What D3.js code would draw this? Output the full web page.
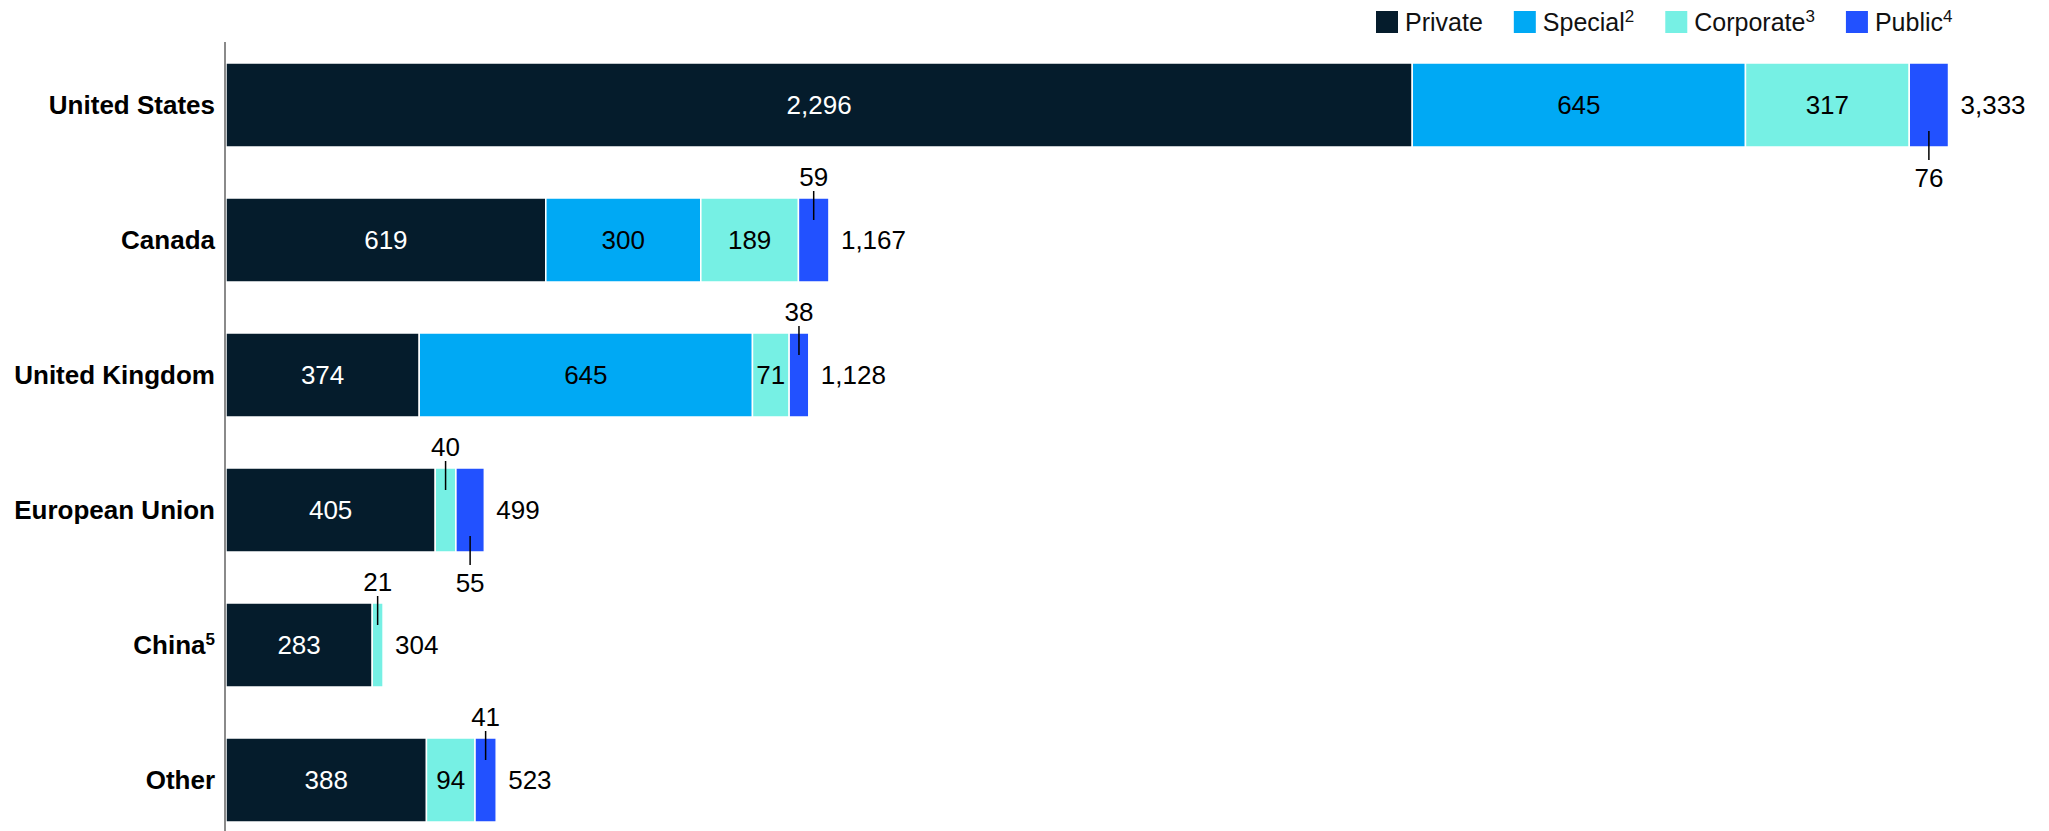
<!DOCTYPE html>
<html>
<head>
<meta charset="utf-8">
<script src="https://cdn.jsdelivr.net/npm/d3@7"></script>
<style>
  html, body { margin: 0; padding: 0; background: #fff; }
  svg { display: block; }
  text { font-family: "Liberation Sans", Arial, Helvetica, sans-serif; }
</style>
</head>
<body>
<svg id="chart" width="2049" height="831"></svg>
<script>
// Categories and their footnote markers
const categories = ["United States", "Canada", "United Kingdom", "European Union", "China", "Other"];
const categoryNotes = ["", "", "", "", "5", ""];

// Series names and footnote markers
const seriesNames = ["Private", "Special", "Corporate", "Public"];
const seriesNotes = ["", "2", "3", "4"];

// Values per series, one per category
const privateValues   = [2296, 619, 374, 405, 283, 388];
const specialValues   = [645, 300, 645, 0, 0, 0];
const corporateValues = [317, 189, 71, 40, 21, 94];
const publicValues    = [76, 59, 38, 55, 0, 41];

// Stated totals per category
const totals = [3333, 1167, 1128, 499, 304, 523];

const colors = ["#051C2C", "#00A9F4", "#76F0E4", "#2251FF"];
const insideText = ["#ffffff", "#000000", "#000000", "#000000"];

const rows = categories.map((c, i) => ({
  category: c,
  note: categoryNotes[i],
  Private: privateValues[i],
  Special: specialValues[i],
  Corporate: corporateValues[i],
  Public: publicValues[i],
  total: totals[i]
}));

const svg = d3.select("#chart");
const fmt = d3.format(",");

const x = d3.scaleLinear().domain([0, 3333]).range([226, 1948]);
const y = d3.scaleBand().domain(categories).range([63, 822]).paddingInner(0.3778).paddingOuter(0);

const stack = d3.stack().keys(seriesNames);
const series = stack(rows);

// Stacked bars
const g = svg.append("g");
series.forEach((s, si) => {
  g.append("g")
    .selectAll("rect")
    .data(s.filter(d => d[1] - d[0] > 0))
    .join("rect")
    .attr("x", d => x(d[0]))
    .attr("y", d => y(d.data.category))
    .attr("width", d => x(d[1]) - x(d[0]))
    .attr("height", y.bandwidth())
    .attr("fill", colors[si])
    .attr("stroke", "#ffffff")
    .attr("stroke-width", 1.5);
});

// Vertical axis line
svg.append("line")
  .attr("x1", 225).attr("x2", 225)
  .attr("y1", 42).attr("y2", 831)
  .attr("stroke", "#8a8a8a")
  .attr("stroke-width", 2);

// Category labels
const catLabels = svg.append("g")
  .selectAll("text")
  .data(rows)
  .join("text")
  .attr("x", 215)
  .attr("y", d => y(d.category) + y.bandwidth() / 2)
  .attr("dy", "0.35em")
  .attr("text-anchor", "end")
  .attr("font-size", 26)
  .attr("font-weight", "bold")
  .attr("fill", "#000");
catLabels.append("tspan").text(d => d.category);
catLabels.filter(d => d.note).append("tspan")
  .attr("font-size", 17)
  .attr("dy", -9)
  .text(d => d.note);

// Segment value labels: inside wide segments, on leader lines otherwise
const labelG = svg.append("g");
rows.forEach((row, ri) => {
  const top = y(row.category);
  const bottom = top + y.bandwidth();
  const mid = top + y.bandwidth() / 2;
  let aboveUsed = false;
  seriesNames.forEach((key, si) => {
    const s = series[si][ri];
    const v = s[1] - s[0];
    if (v <= 0) return;
    const cx = (x(s[0]) + x(s[1])) / 2;
    const inside = key !== "Public" && v >= 60;
    if (inside) {
      labelG.append("text")
        .attr("x", cx).attr("y", mid).attr("dy", "0.35em")
        .attr("text-anchor", "middle")
        .attr("font-size", 26)
        .attr("fill", insideText[si])
        .text(fmt(v));
      return;
    }
    const below = key === "Public" && (ri === 0 || aboveUsed);
    if (below) {
      labelG.append("line")
        .attr("x1", cx).attr("x2", cx)
        .attr("y1", bottom - 16).attr("y2", bottom + 13)
        .attr("stroke", "#000").attr("stroke-width", 1.5);
      labelG.append("text")
        .attr("x", cx).attr("y", bottom + 40)
        .attr("text-anchor", "middle")
        .attr("font-size", 26)
        .attr("fill", "#000")
        .text(fmt(v));
    } else {
      aboveUsed = true;
      labelG.append("line")
        .attr("x1", cx).attr("x2", cx)
        .attr("y1", top - 7).attr("y2", top + 22)
        .attr("stroke", "#000").attr("stroke-width", 1.5);
      labelG.append("text")
        .attr("x", cx).attr("y", top - 12)
        .attr("text-anchor", "middle")
        .attr("font-size", 26)
        .attr("fill", "#000")
        .text(fmt(v));
    }
  });
});

// Totals at bar ends
svg.append("g")
  .selectAll("text")
  .data(rows)
  .join("text")
  .attr("x", (d, i) => x(series[series.length - 1][i][1]) + 12)
  .attr("y", d => y(d.category) + y.bandwidth() / 2)
  .attr("dy", "0.35em")
  .attr("font-size", 26)
  .attr("fill", "#000")
  .text(d => fmt(d.total));

// Legend
const legend = svg.append("g");
let lx = 1376;
seriesNames.forEach((name, i) => {
  legend.append("rect")
    .attr("x", lx).attr("y", 11)
    .attr("width", 22).attr("height", 22)
    .attr("fill", colors[i]);
  const t = legend.append("text")
    .attr("x", lx + 29).attr("y", 31)
    .attr("font-size", 25)
    .attr("fill", "#111");
  t.append("tspan").text(name);
  if (seriesNotes[i]) {
    t.append("tspan").attr("font-size", 17).attr("dy", -9).text(seriesNotes[i]);
  }
  lx += 29 + t.node().getComputedTextLength() + 31;
});
</script>
</body>
</html>
